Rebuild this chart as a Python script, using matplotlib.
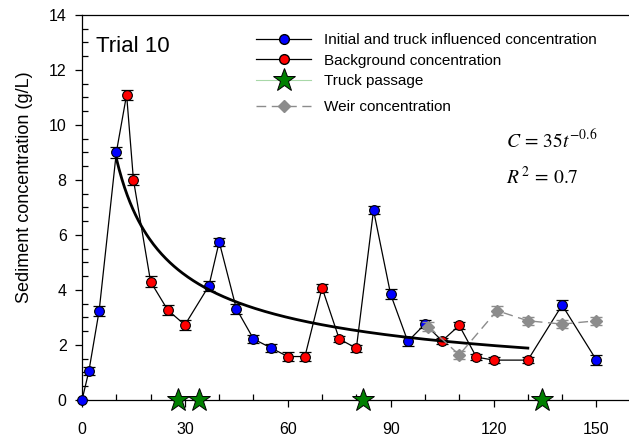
import numpy as np
import matplotlib
matplotlib.use('Agg')
from matplotlib import pyplot as plt
from matplotlib.ticker import MultipleLocator
from matplotlib.lines import Line2D

plt.rcParams['font.family'] = ['Liberation Sans', 'DejaVu Sans']
plt.rcParams['mathtext.fontset'] = 'stix'

# initial and truck influenced samples (min, g/L)
init_t = [0, 2, 5, 10, 37, 40, 45, 50, 55, 85, 90, 95, 100, 140, 150]
init_c = [0.0, 1.05, 3.25, 9.0, 4.15, 5.75, 3.32, 2.22, 1.9, 6.9, 3.84, 2.13, 2.76, 3.45, 1.45]
init_err = [0.0, 0.15, 0.18, 0.2, 0.18, 0.15, 0.18, 0.15, 0.15, 0.15, 0.18, 0.15, 0.15, 0.18, 0.18]

# background samples
bg_t = [13, 15, 20, 25, 30, 60, 65, 70, 75, 80, 105, 110, 115, 120, 130]
bg_c = [11.1, 8.0, 4.3, 3.27, 2.73, 1.58, 1.58, 4.08, 2.22, 1.88, 2.15, 2.71, 1.56, 1.45, 1.45]
bg_err = [0.18, 0.2, 0.2, 0.18, 0.18, 0.15, 0.15, 0.15, 0.12, 0.12, 0.12, 0.12, 0.12, 0.1, 0.12]

# weir samples
weir_t = [101, 110, 121, 130, 140, 150]
weir_c = [2.67, 1.64, 3.25, 2.88, 2.76, 2.88]
weir_err = [0.15, 0.15, 0.15, 0.15, 0.15, 0.15]

# truck passes
truck_t = [28, 34, 82, 134]

# power law fit C = a t^b
fit_a = 35
fit_b = -0.6
fit_r2 = 0.7
fit_range = (10, 130)

fig = plt.figure(figsize=(6.29, 4.37), dpi=100)
ax = fig.add_axes([0.1304, 0.0847, 0.8696, 0.881])

# one black line through all samples in time order
all_t = np.array(init_t + bg_t)
all_c = np.array(init_c + bg_c)
order = np.argsort(all_t)
ax.plot(all_t[order], all_c[order], color='black', lw=0.9, zorder=2)

ax.errorbar(init_t, init_c, yerr=init_err, fmt='none', ecolor='black',
            elinewidth=0.9, capsize=4, capthick=0.9, zorder=2)
ax.errorbar(bg_t, bg_c, yerr=bg_err, fmt='none', ecolor='black',
            elinewidth=0.9, capsize=4, capthick=0.9, zorder=2)
ax.plot(init_t, init_c, 'o', color='#0000ff', mec='black', mew=0.8, ms=7,
        zorder=3, clip_on=False)
ax.plot(bg_t, bg_c, 'o', color='#ff0000', mec='black', mew=0.8, ms=7,
        zorder=3, clip_on=False)

ax.errorbar(weir_t, weir_c, yerr=weir_err, fmt='D', color='#8c8c8c',
            ecolor='#8c8c8c', ms=6, mec='#8c8c8c', ls=(0, (7, 4)), lw=1.0,
            elinewidth=1.0, capsize=4, capthick=1.0, zorder=4)

ax.plot(truck_t, np.zeros(len(truck_t)), '*', color='#007f00', mec='black',
        mew=0.7, ms=17, ls='none', zorder=5, clip_on=False)

tt = np.linspace(fit_range[0], fit_range[1], 300)
ax.plot(tt, fit_a * tt ** fit_b, color='black', lw=2.0, zorder=3)

ax.set_xlim(0, 159.5)
ax.set_ylim(0, 14)
ax.xaxis.set_major_locator(MultipleLocator(30))
ax.xaxis.set_minor_locator(MultipleLocator(10))
ax.yaxis.set_major_locator(MultipleLocator(2))
ax.yaxis.set_minor_locator(MultipleLocator(0.5))
ax.tick_params(which='major', direction='out', length=5, width=0.9, labelsize=11.5)
ax.tick_params(which='minor', direction='in', length=4, width=0.9)
ax.tick_params(axis='x', which='major', pad=11)
ax.tick_params(axis='y', which='major', pad=6)
ax.tick_params(top=False, right=False, which='both')
ax.spines['right'].set_visible(False)
for s in ('left', 'bottom', 'top'):
    ax.spines[s].set_linewidth(0.9)

ax.set_ylabel('Sediment concentration (g/L)', fontsize=13)
ax.yaxis.set_label_coords(-0.09, 0.553)

ax.text(0.025, 0.905, 'Trial 10', transform=ax.transAxes, fontsize=16,
        va='baseline', ha='left')

ax.text(0.775, 0.655, r'$C\,=\,%dt^{%.1f}$' % (fit_a, fit_b),
        transform=ax.transAxes, fontsize=14, ha='left', va='baseline')
ax.text(0.775, 0.56, r'$R^{\,2}\,=\,%.1f$' % fit_r2,
        transform=ax.transAxes, fontsize=14, ha='left', va='baseline')

h_init = Line2D([], [], color='black', lw=0.9, marker='o', mfc='#0000ff',
                mec='black', ms=7)
h_bg = Line2D([], [], color='black', lw=0.9, marker='o', mfc='#ff0000',
              mec='black', ms=7)
h_truck = Line2D([], [], color='#a8d8a8', lw=0.8, marker='*', mfc='#007f00',
                 mec='black', mew=0.7, ms=17)
h_weir = Line2D([], [], color='#8c8c8c', lw=1.0, ls=(0, (7, 4)), marker='D',
                mfc='#8c8c8c', mec='#8c8c8c', ms=6)

leg1 = fig.legend([h_init, h_bg, h_truck],
                  ['Initial and truck influenced concentration',
                   'Background concentration', 'Truck passage'],
                  loc='upper left', bbox_to_anchor=(256 / 629, 1 - 33 / 437),
                  frameon=False, fontsize=11, handlelength=3.6,
                  handletextpad=0.85, labelspacing=0.43, borderpad=0,
                  borderaxespad=0)
fig.legend([h_weir], ['Weir concentration'], loc='upper left',
           bbox_to_anchor=(256 / 629, 1 - 100 / 437), frameon=False,
           fontsize=11, handlelength=3.6, handletextpad=0.85, borderpad=0,
           borderaxespad=0)

fig.savefig('out.png', dpi=100)
